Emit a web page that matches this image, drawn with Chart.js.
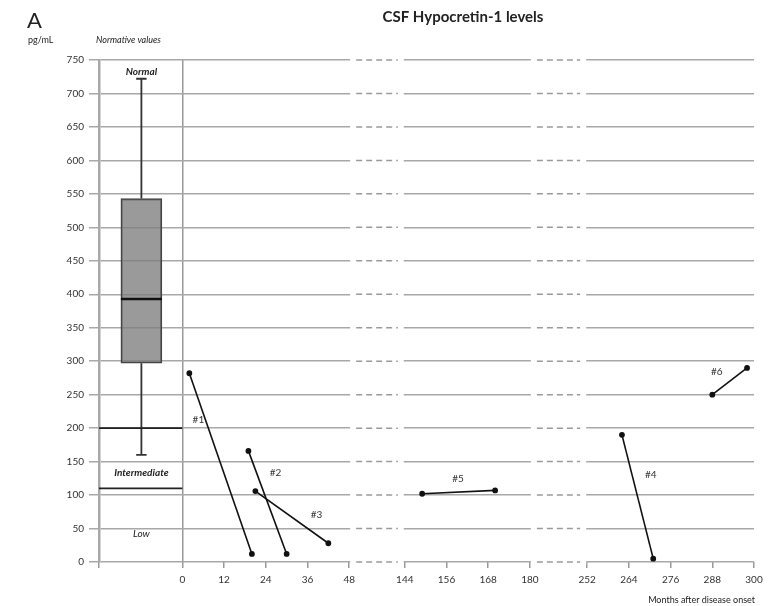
<!DOCTYPE html>
<html>
<head>
<meta charset="utf-8">
<script src="https://cdn.jsdelivr.net/npm/chart.js@4.4.1/dist/chart.umd.min.js"></script>
<style>
  html, body { margin: 0; padding: 0; background: #fff; }
  #wrap { width: 783px; height: 606px; position: relative; }
</style>
</head>
<body>
<div id="wrap"><canvas id="chart"></canvas></div>
<script>
// months after onset shown on the x axis (three broken segments)
const tickMonths = [0, 12, 24, 36, 48, 144, 156, 168, 180, 252, 264, 276, 288, 300];
const yTicks = [0, 50, 100, 150, 200, 250, 300, 350, 400, 450, 500, 550, 600, 650, 700, 750];

// patients: [month, pg/mL]
const p1 = [[2, 282], [20, 12]];
const p2 = [[19, 166], [30, 12]];
const p3 = [[21, 106], [42, 28]];
const p5 = [[149, 102], [170, 107]];
const p4 = [[262, 190], [271, 5]];
const p6 = [[288, 250], [298, 290]];

// normative values: min, q1, median, q3, max
const boxStats = [160, 297, 393, 543, 722];
const normalCut = 200;
const lowCut = 110;

// axis break layout (virtual units)
const segments = [
  { from: 0, to: 48, at: 0 },
  { from: 144, to: 180, at: 64 },
  { from: 252, to: 300, at: 116.5 }
];
const X_MIN = -24, X_MAX = 164.5;
const BOX_X = -11.8, BOX_HALF = 5.9, CAP_HALF = 1.5;

function toVirtual(m) {
  for (const s of segments) {
    if (m >= s.from - 1e-6 && m <= s.to + 1e-6) return s.at + (m - s.from);
  }
  return null;
}
function fromVirtual(v) {
  for (const s of segments) {
    if (v >= s.at - 1e-6 && v <= s.at + (s.to - s.from) + 1e-6) return s.from + (v - s.at);
  }
  return null;
}
const pts = arr => arr.map(d => ({ x: toVirtual(d[0]), y: d[1] }));

const notes = [
  { t: '#1', m: 4.6, v: 212 },
  { t: '#2', m: 26.8, v: 134 },
  { t: '#3', m: 38.6, v: 70 },
  { t: '#5', m: 159.3, v: 124 },
  { t: '#4', m: 270.3, v: 130 },
  { t: '#6', m: 289.3, v: 284 }
];

const lineStyle = {
  type: 'scatter', showLine: true, borderColor: '#111', borderWidth: 1.6,
  pointRadius: 2.1, pointBackgroundColor: '#111', pointBorderColor: '#111', order: 0
};
const plainLine = (data, w, color) => ({
  type: 'scatter', showLine: true, data: data, borderColor: color || '#222',
  borderWidth: w, pointRadius: 0, spanGaps: false, order: 0
});

const FONT = 'Lato, "Open Sans", sans-serif';

const breakPlugin = {
  id: 'breaks',
  beforeDatasetsDraw(chart) {
    const ctx = chart.ctx, xs = chart.scales.x, ys = chart.scales.y, a = chart.chartArea;
    ctx.save();
    for (let i = 0; i < segments.length - 1; i++) {
      const x0 = xs.getPixelForValue(segments[i].at + segments[i].to - segments[i].from);
      const x1 = xs.getPixelForValue(segments[i + 1].at);
      ctx.fillStyle = '#fff';
      ctx.fillRect(x0 + 1, a.top - 3, x1 - x0 - 2, a.bottom - a.top + 6);
      ctx.strokeStyle = '#9a9a9a';
      ctx.lineWidth = 1.5;
      ctx.setLineDash([6, 4]);
      yTicks.forEach(v => {
        const y = ys.getPixelForValue(v);
        ctx.beginPath();
        ctx.moveTo(x0 + 7, y);
        ctx.lineTo(x1 - 7, y);
        ctx.stroke();
      });
    }
    ctx.restore();
  },
  afterDraw(chart) {
    const ctx = chart.ctx, xs = chart.scales.x, ys = chart.scales.y;
    ctx.save();
    ctx.fillStyle = '#222';
    ctx.textBaseline = 'middle';
    ctx.textAlign = 'left';
    ctx.font = '22px ' + FONT;
    ctx.fillText('A', 27, 21);
    ctx.font = '9px ' + FONT;
    ctx.fillText('pg/mL', 28, 40);
    ctx.font = 'italic 9px ' + FONT;
    ctx.fillText('Normative values', 96, 40);
    ctx.textAlign = 'center';
    ctx.font = 'bold 15px ' + FONT;
    ctx.fillText('CSF Hypocretin-1 levels', 463, 17);
    ctx.textAlign = 'right';
    ctx.font = '9px ' + FONT;
    ctx.fillText('Months after disease onset', 755, 600);

    ctx.textAlign = 'center';
    const bx = xs.getPixelForValue(BOX_X);
    ctx.font = 'bold italic 10px ' + FONT;
    ctx.fillText('Normal', bx, ys.getPixelForValue(732));
    ctx.fillText('Intermediate', bx, ys.getPixelForValue(133));
    ctx.font = 'italic 10px ' + FONT;
    ctx.fillText('Low', bx, ys.getPixelForValue(42));

    ctx.font = '10px ' + FONT;
    ctx.fillStyle = '#333';
    notes.forEach(n => {
      ctx.fillText(n.t, xs.getPixelForValue(toVirtual(n.m)), ys.getPixelForValue(n.v));
    });
    ctx.restore();
  }
};

const whiskers = [
  { x: BOX_X, y: boxStats[3] }, { x: BOX_X, y: boxStats[4] }, { x: BOX_X, y: null },
  { x: BOX_X - CAP_HALF, y: boxStats[4] }, { x: BOX_X + CAP_HALF, y: boxStats[4] }, { x: BOX_X, y: null },
  { x: BOX_X, y: boxStats[1] }, { x: BOX_X, y: boxStats[0] }, { x: BOX_X, y: null },
  { x: BOX_X - CAP_HALF, y: boxStats[0] }, { x: BOX_X + CAP_HALF, y: boxStats[0] }
];

new Chart(document.getElementById('chart'), {
  type: 'scatter',
  data: {
    datasets: [
      plainLine([{ x: X_MIN, y: normalCut }, { x: 0, y: normalCut }], 1.8, '#222'),
      plainLine([{ x: X_MIN, y: lowCut }, { x: 0, y: lowCut }], 1.8, '#222'),
      plainLine(whiskers, 1.8, '#333'),
      {
        type: 'bar',
        order: 5,
        data: [{ x: BOX_X, y: [boxStats[1], boxStats[3]] }],
        backgroundColor: 'rgba(125,125,125,0.78)',
        borderColor: '#444',
        borderWidth: 1.5,
        borderSkipped: false,
        barThickness: 41
      },
      plainLine([{ x: BOX_X - BOX_HALF, y: boxStats[2] }, { x: BOX_X + BOX_HALF, y: boxStats[2] }], 2.5, '#111'),
      Object.assign({ data: pts(p1) }, lineStyle),
      Object.assign({ data: pts(p2) }, lineStyle),
      Object.assign({ data: pts(p3) }, lineStyle),
      Object.assign({ data: pts(p5) }, lineStyle),
      Object.assign({ data: pts(p4) }, lineStyle),
      Object.assign({ data: pts(p6) }, lineStyle)
    ]
  },
  options: {
    responsive: true,
    maintainAspectRatio: false,
    animation: false,
    layout: { padding: { top: 60, right: 29, bottom: 0, left: 0 } },
    plugins: { legend: { display: false }, tooltip: { enabled: false }, title: { display: false } },
    scales: {
      x: {
        type: 'linear',
        min: X_MIN,
        max: X_MAX,
        offset: false,
        afterBuildTicks: s => { s.ticks = [X_MIN].concat(tickMonths.map(toVirtual)).map(v => ({ value: v })); },
        afterFit: s => { s.height = 44; },
        ticks: {
          autoSkip: false,
          maxRotation: 0,
          padding: 6,
          color: '#333',
          font: { family: FONT, size: 10 },
          callback: v => {
            if (v <= X_MIN + 1e-6) return '';
            const m = fromVirtual(v);
            return m === null ? '' : String(Math.round(m));
          }
        },
        grid: {
          offset: false,
          color: c => (c.tick && Math.abs(c.tick.value) < 1e-6) ? '#999' : 'rgba(0,0,0,0)',
          tickColor: '#999',
          lineWidth: 1.5,
          tickLength: 6
        },
        border: { display: false }
      },
      y: {
        min: 0,
        max: 750,
        afterBuildTicks: s => { s.ticks = yTicks.map(v => ({ value: v })); },
        afterFit: s => { s.width = 99; },
        ticks: { color: '#333', padding: 5, font: { family: FONT, size: 10 } },
        grid: { color: '#a8a8a8', lineWidth: 1.5, tickLength: 10 },
        border: { color: '#a8a8a8', width: 2.5 }
      }
    }
  },
  plugins: [breakPlugin]
});
</script>
</body>
</html>
